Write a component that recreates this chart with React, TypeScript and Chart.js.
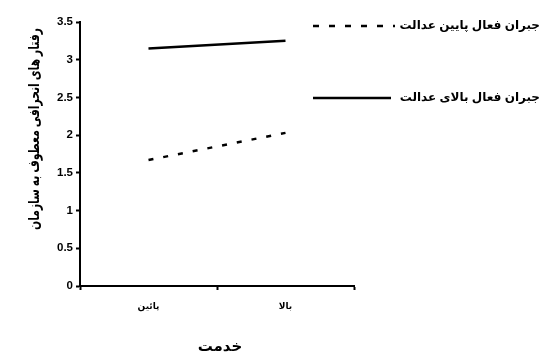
import React, { useEffect, useRef } from "react";
import { Chart, registerables } from "chart.js";

Chart.register(...registerables);

const categories = ["پائین", "بالا"];
const lowJusticeValues = [1.67, 2.03];
const highJusticeValues = [3.15, 3.25];
const seriesLabels = ["جبران فعال پایین عدالت", "جبران فعال بالای عدالت"];
const yTitle = "رفتار های انحرافی معطوف به سازمان";
const xTitle = "خدمت";

const FONT = "Arial, 'Liberation Sans', 'DejaVu Sans', sans-serif";

const customText = {
  id: "customText",
  afterDraw(chart: any) {
    const ctx = chart.ctx as CanvasRenderingContext2D;
    ctx.save();
    ctx.fillStyle = "#000";
    ctx.strokeStyle = "#000";
    // legend
    const legendY = [26, 98];
    const lineEnds = [395, 391];
    chart.data.datasets.forEach((ds: any, i: number) => {
      const y = legendY[i];
      ctx.save();
      ctx.lineWidth = 2.5;
      ctx.setLineDash(ds.borderDash ? [6, 10] : []);
      ctx.beginPath();
      ctx.moveTo(313, y);
      ctx.lineTo(lineEnds[i], y);
      ctx.stroke();
      ctx.restore();
      ctx.font = `bold 12px ${FONT}`;
      (ctx as any).direction = "rtl";
      ctx.textAlign = "right";
      ctx.textBaseline = "middle";
      ctx.fillText(ds.label, 540, y);
    });
    // y title
    ctx.save();
    ctx.translate(35, 129);
    ctx.rotate(-Math.PI / 2);
    ctx.font = `bold 15px ${FONT}`;
    (ctx as any).direction = "rtl";
    ctx.textAlign = "center";
    ctx.textBaseline = "middle";
    ctx.fillText(yTitle, 0, 0, 202);
    ctx.restore();
    // x title
    ctx.font = `bold 15px ${FONT}`;
    (ctx as any).direction = "rtl";
    ctx.textAlign = "center";
    ctx.textBaseline = "middle";
    ctx.fillText(xTitle, 220, 347);
    ctx.restore();
  },
};

export default function App() {
  const ref = useRef<HTMLCanvasElement>(null);
  useEffect(() => {
    document.body.style.margin = "0";
    const chart = new Chart(ref.current!, {
      type: "line",
      data: {
        labels: categories,
        datasets: [
          {
            label: seriesLabels[0],
            data: lowJusticeValues,
            borderColor: "#000",
            borderWidth: 2.5,
            borderDash: [5, 10],
            pointRadius: 0,
            fill: false,
          },
          {
            label: seriesLabels[1],
            data: highJusticeValues,
            borderColor: "#000",
            borderWidth: 2.5,
            pointRadius: 0,
            fill: false,
          },
        ],
      },
      options: {
        responsive: false,
        animation: false,
        layout: { padding: { top: 22, right: 188, left: 0, bottom: 0 } },
        plugins: { legend: { display: false }, tooltip: { enabled: false } },
        scales: {
          x: {
            type: "category",
            offset: true,
            grid: {
              offset: true,
              drawOnChartArea: false,
              drawTicks: true,
              tickLength: 4,
              tickWidth: 2,
              tickColor: "#000",
            },
            border: { display: true, color: "#000", width: 2 },
            ticks: {
              color: "#000",
              font: { family: FONT, size: 9, weight: "bold" },
              padding: 11,
              maxRotation: 0,
            },
            afterFit: (s: any) => {
              s.height = 66;
            },
          },
          y: {
            min: 0,
            max: 3.5,
            grid: {
              drawOnChartArea: false,
              drawTicks: true,
              tickLength: 4,
              tickWidth: 2,
              tickColor: "#000",
            },
            border: { display: true, color: "#000", width: 2 },
            ticks: {
              stepSize: 0.5,
              color: "#000",
              font: { family: FONT, size: 11.5, weight: "bold" },
              padding: 3,
              callback: (v: any) => String(v),
            },
            afterFit: (s: any) => {
              s.width = 80;
            },
          },
        },
      },
      plugins: [customText],
    });
    return () => chart.destroy();
  }, []);
  return (
    <div style={{ width: 542, height: 352, background: "#fff" }}>
      <canvas ref={ref} width={542} height={352} />
    </div>
  );
}
